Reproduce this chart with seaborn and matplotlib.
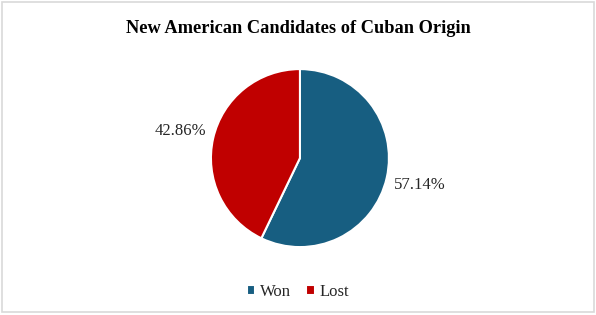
import matplotlib.pyplot as plt
import seaborn as sns
from matplotlib.patches import Rectangle

# Data
categories = ['Won', 'Lost']
shares = [57.14, 42.86]
colors = ['#175E81', '#C00000']

sns.set_theme(style='white')
plt.rcParams['font.family'] = ['Liberation Serif', 'DejaVu Serif']

fig = plt.figure(figsize=(5.96, 3.15), dpi=100)
ax = fig.add_axes([0.3166, 0.145, 0.3733, 0.7063])

wedges, texts, autotexts = ax.pie(
    shares, colors=colors, startangle=90, counterclock=False,
    autopct='%.2f%%', pctdistance=1.38,
    wedgeprops=dict(edgecolor='white', linewidth=1.5),
    textprops=dict(fontsize=12, color='#262626'),
)
ax.set_aspect('equal')

fig.suptitle('New American Candidates of Cuban Origin', y=0.935,
             fontsize=13.2, fontweight='bold', color='black')

fig.legend(wedges, categories, loc='lower center', bbox_to_anchor=(0.5, 0.0),
           ncol=2, frameon=False, fontsize=12, handlelength=0.5,
           handleheight=0.5, handletextpad=0.3, columnspacing=0.9)

# light gray chart border
fig.patches.append(Rectangle((0.004, 0.01), 0.992, 0.983, transform=fig.transFigure,
                             fill=False, edgecolor='#D9D9D9', linewidth=1.2))

fig.savefig('out.png', dpi=100)
plt.close()
